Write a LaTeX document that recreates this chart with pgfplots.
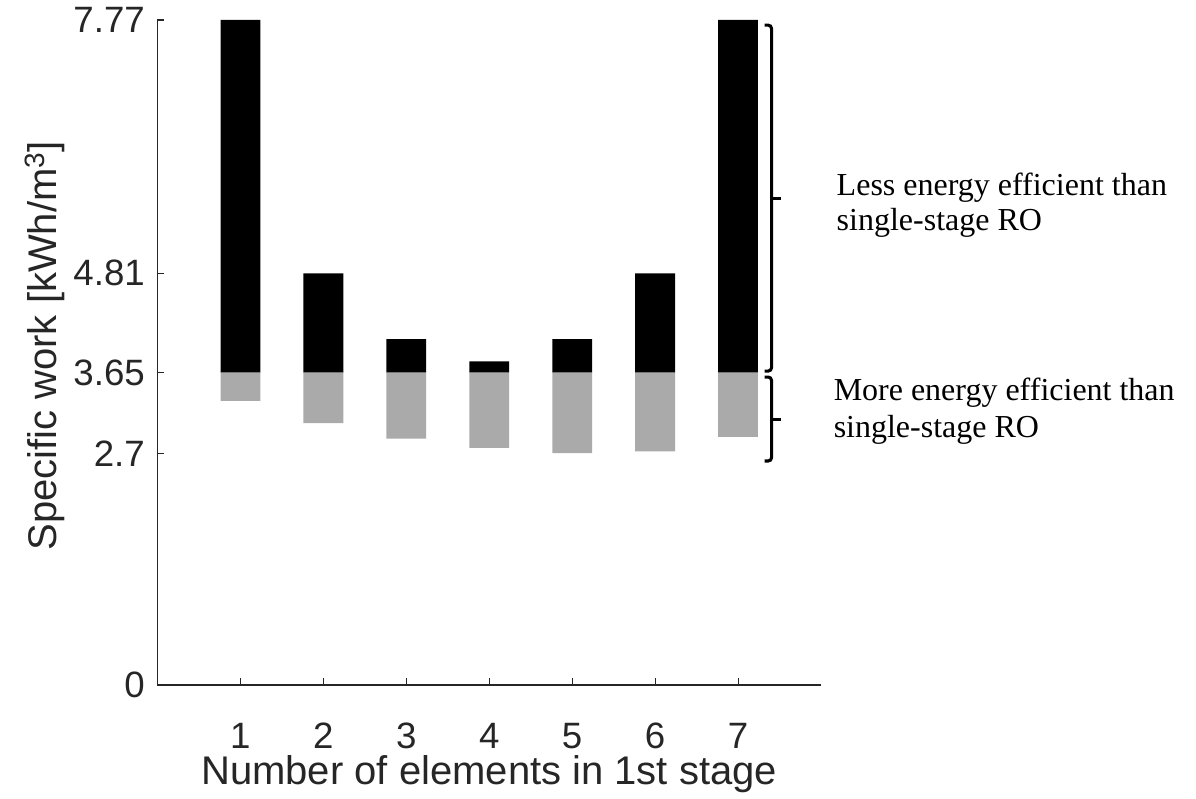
\documentclass[border=0pt]{standalone}
\usepackage{pgfplots}
\pgfplotsset{compat=1.18}
\usepackage{pgfplotstable}
\usepackage{fontspec}
\setmainfont{Liberation Serif}
\newfontfamily\arial{Liberation Sans}
\definecolor{gry}{RGB}{170,170,170}
\definecolor{axc}{RGB}{38,38,38}
\pgfplotstableread{
x low high
1 3.32 7.77
2 3.06 4.81
3 2.88 4.04
4 2.77 3.78
5 2.71 4.04
6 2.73 4.81
7 2.90 7.77
}\datatable
\begin{document}
\begin{tikzpicture}
\path[use as bounding box] (-118.125pt,-85.5pt) rectangle ++(897pt,599.25pt);
\begin{axis}[
  at={(0,0)}, anchor=south west,
  scale only axis, width=497.6pt, height=498.75pt,
  xmin=0, xmax=8, ymin=0, ymax=7.77,
  axis lines=left,
  axis line style={-, draw=axc, line width=0.8pt},
  tick style={draw=axc, line width=0.8pt},
  major tick length=5.25pt,
  tick align=inside,
  xtick={1,2,3,4,5,6,7},
  ytick={0,2.7,3.65,4.81,7.77},
  yticklabels={0,2.7,3.65,4.81,7.77},
  xticklabels={1,2,3,4,5,6,7},
  ticklabel style={font=\arial\fontsize{27.5}{33}\selectfont, text=axc},
  xticklabel style={anchor=base, yshift=-47.25pt},
  yticklabel style={xshift=-6pt},
  /pgf/number format/assume math mode=true,
  ybar stacked, bar width=0.48,
  clip=false,
  xlabel={Number of elements in 1st stage},
  ylabel={Specific work [kWh/m\textsuperscript{3}]},
  label style={font=\arial\fontsize{30}{36}\selectfont, text=axc},
  xlabel style={at={(axis description cs:0.5,-0.1489)}, anchor=base},
  ylabel style={at={(axis description cs:-0.1527,0.51)}, anchor=base},
]
\addplot[draw=none, fill=none] table[x=x, y=low]{\datatable};
\addplot[draw=none, fill=gry] table[x=x, y expr=3.65-\thisrow{low}]{\datatable};
\addplot[draw=none, fill=black] table[x=x, y expr=\thisrow{high}-3.65]{\datatable};
% braces
\draw[line width=2.3pt, rounded corners=2.5pt, line cap=butt]
  (axis cs:7.32,7.71) -- (axis cs:7.404,7.71) -- (axis cs:7.404,3.668) -- (axis cs:7.32,3.668);
\draw[line width=2.3pt, line cap=butt]
  (axis cs:7.404,5.689) -- (axis cs:7.524,5.689);
\draw[line width=2.3pt, rounded corners=2.5pt, line cap=butt]
  (axis cs:7.32,3.598) -- (axis cs:7.404,3.598) -- (axis cs:7.404,2.617) -- (axis cs:7.32,2.617);
\draw[line width=2.3pt, line cap=butt]
  (axis cs:7.404,3.1075) -- (axis cs:7.524,3.1075);
\node[anchor=base west, inner sep=0pt, font=\fontsize{24}{28}\selectfont] at (axis cs:8.187,5.724) {Less energy efficient than};
\node[anchor=base west, inner sep=0pt, font=\fontsize{24}{28}\selectfont] at (axis cs:8.187,5.315) {single-stage RO};
\node[anchor=base west, inner sep=0pt, font=\fontsize{24}{28}\selectfont] at (axis cs:8.151,3.329) {More energy efficient than};
\node[anchor=base west, inner sep=0pt, font=\fontsize{24}{28}\selectfont] at (axis cs:8.151,2.897) {single-stage RO};
\end{axis}
\end{tikzpicture}
\end{document}
